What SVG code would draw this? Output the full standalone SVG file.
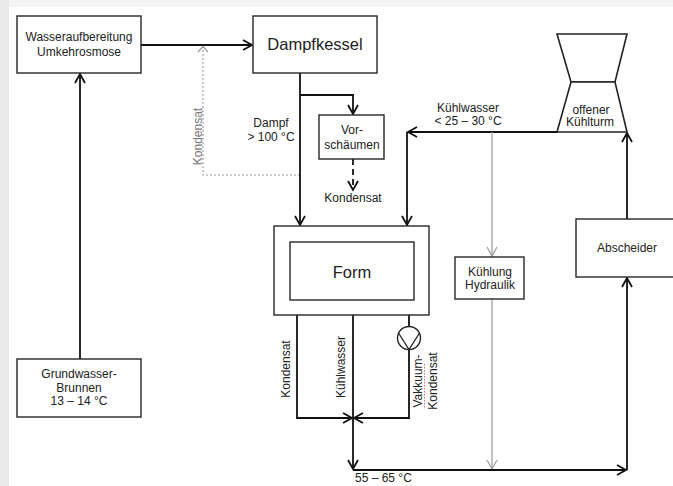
<svg xmlns="http://www.w3.org/2000/svg" width="673" height="486" viewBox="0 0 673 486">
<style>
  .box{fill:#fff;stroke:#262626;stroke-width:1.4}
  .ln{fill:none;stroke:#111;stroke-width:1.8}
  .gl{fill:none;stroke:#9a9a9a;stroke-width:1.2}
  .t{font-family:"Liberation Sans",Arial,sans-serif;font-size:12px;fill:#222;text-anchor:middle}
  .big{font-size:16.5px}
  .gt{fill:#777}
</style>
<defs>
  <marker id="ah" viewBox="-11 -7 13 14" markerWidth="13" markerHeight="14" refX="0" refY="0" orient="auto" markerUnits="userSpaceOnUse">
    <path d="M-9,-5 L0,0 L-9,5" fill="none" stroke="#111" stroke-width="1.8"/>
  </marker>
  <marker id="ahg" viewBox="-11 -7 13 14" markerWidth="13" markerHeight="14" refX="0" refY="0" orient="auto" markerUnits="userSpaceOnUse">
    <path d="M-9,-5 L0,0 L-9,5" fill="none" stroke="#9a9a9a" stroke-width="1.2"/>
  </marker>
</defs>
<rect x="0" y="0" width="673" height="486" fill="#f3f3f3"/>
<rect x="0" y="0" width="9" height="486" fill="#e9e9e9"/>
<rect x="9" y="7" width="664" height="479" fill="#fff"/>

<g id="connectors">
  <line class="ln" x1="80" y1="359" x2="80" y2="74" marker-end="url(#ah)"/>
  <line class="ln" x1="141" y1="45" x2="252" y2="45" marker-end="url(#ah)"/>
  <polyline fill="none" stroke="#9a9a9a" stroke-width="1.1" stroke-dasharray="2,2" points="300,175 203,175 203,47"/>
  <path d="M198,52 L203,46.5 L208,52" fill="none" stroke="#9a9a9a" stroke-width="1.2"/>
  <line class="ln" x1="300" y1="73" x2="300" y2="225" marker-end="url(#ah)"/>
  <polyline class="ln" points="300,95 353,95 353,114" marker-end="url(#ah)"/>
  <line class="ln" x1="353" y1="159" x2="353" y2="190" stroke-dasharray="6,4" marker-end="url(#ah)"/>
  <line class="ln" x1="558" y1="132" x2="408" y2="132" marker-end="url(#ah)"/>
  <line class="ln" x1="407" y1="132" x2="407" y2="225" marker-end="url(#ah)"/>
  <line class="gl" x1="492" y1="132" x2="492" y2="256" marker-end="url(#ahg)"/>
  <line class="gl" x1="492" y1="299" x2="492" y2="469" marker-end="url(#ahg)"/>
  <polyline class="ln" points="297,315 297,418 352,418" marker-end="url(#ah)"/>
  <line class="ln" x1="353" y1="315" x2="353" y2="469" marker-end="url(#ah)"/>
  <line class="ln" x1="409" y1="315" x2="409" y2="326.5"/>
  <polyline class="ln" points="409,349.5 409,418 354,418" marker-end="url(#ah)"/>
  <line class="ln" x1="353" y1="470" x2="626" y2="470" marker-end="url(#ah)"/>
  <line class="ln" x1="627" y1="470" x2="627" y2="278" marker-end="url(#ah)"/>
  <line class="ln" x1="627" y1="219" x2="627" y2="133" marker-end="url(#ah)"/>
  <g id="pump">
    <circle cx="409" cy="338" r="11.5" fill="#fff" stroke="#222" stroke-width="1.4"/>
    <polyline points="398.5,333 409,349.5 419.5,333" fill="none" stroke="#222" stroke-width="1.3"/>
  </g>
  <text class="t gt" transform="translate(201.5,136.5) rotate(-90)">Kondensat</text>
  <text class="t" x="271" y="127">Dampf</text>
  <text class="t" x="271" y="141">&gt; 100 °C</text>
  <text class="t" x="353" y="202">Kondensat</text>
  <text class="t" x="468" y="112">Kühlwasser</text>
  <text class="t" x="468" y="125">&lt; 25 – 30 °C</text>
  <text class="t" transform="translate(290,369) rotate(-90)">Kondensat</text>
  <text class="t" transform="translate(344.5,367) rotate(-90)">Kühlwasser</text>
  <text class="t" transform="translate(422,381) rotate(-90)">Vakkuum-</text>
  <text class="t" transform="translate(436.5,381) rotate(-90)">Kondensat</text>
  <line x1="424.5" y1="364" x2="424.5" y2="409" stroke="#e06060" stroke-width="0.9" stroke-dasharray="1.5,1.5"/>
  <text class="t" x="355" y="482" style="text-anchor:start">55 – 65 °C</text>
</g>

<g id="wasseraufbereitung">
  <rect class="box" x="17" y="16" width="124" height="57"/>
  <text class="t" x="79" y="41">Wasseraufbereitung</text>
  <text class="t" x="79" y="55.5">Umkehrosmose</text>
</g>
<g id="dampfkessel">
  <rect class="box" x="253" y="16" width="124" height="57"/>
  <text class="t big" x="315" y="49.5">Dampfkessel</text>
</g>
<g id="vorschaeumen">
  <rect class="box" x="319" y="115" width="65" height="44"/>
  <text class="t" x="352" y="134">Vor-</text>
  <text class="t" x="352" y="148.5">schäumen</text>
</g>
<g id="kuehlturm">
  <polygon points="557,34 627,34 615,82 571,82" fill="#fff" stroke="#222" stroke-width="1.6"/>
  <polygon points="571,82 615,82 627,132 557,132" fill="#fff" stroke="#222" stroke-width="1.6"/>
  <text class="t" x="591" y="113.5">offener</text>
  <text class="t" x="590" y="126">Kühlturm</text>
</g>
<g id="form">
  <rect class="box" x="274" y="226" width="155" height="89"/>
  <rect class="box" x="290" y="242" width="124" height="58"/>
  <text class="t big" x="352" y="278">Form</text>
</g>
<g id="kuehlung">
  <rect class="box" x="455" y="257" width="69" height="42"/>
  <text class="t" x="490" y="275.5">Kühlung</text>
  <text class="t" x="490" y="289">Hydraulik</text>
</g>
<g id="abscheider">
  <rect class="box" x="576" y="219" width="110" height="58"/>
  <text class="t" x="627" y="252">Abscheider</text>
</g>
<g id="grundwasser">
  <rect class="box" x="17" y="359" width="124" height="58"/>
  <text class="t" x="79" y="378">Grundwasser-</text>
  <text class="t" x="79" y="391.5">Brunnen</text>
  <text class="t" x="79" y="405">13 – 14 °C</text>
</g>
</svg>
